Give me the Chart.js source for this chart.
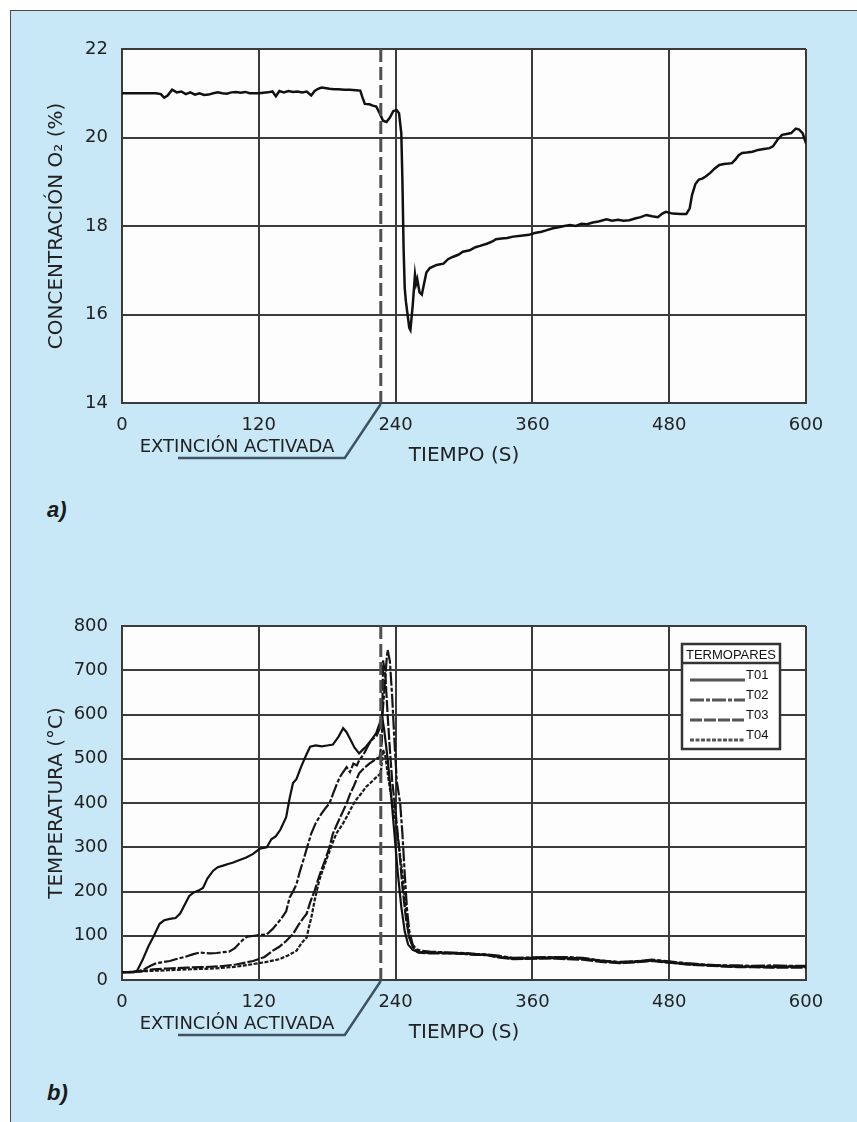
<!DOCTYPE html>
<html lang="es">
<head>
<meta charset="utf-8">
<title>Concentración de O2 y temperatura</title>
<script src="https://cdn.jsdelivr.net/npm/chart.js@4.4.1/dist/chart.umd.min.js"></script>
<style>
  html, body { margin: 0; padding: 0; background: #fff; }
  body { width: 857px; height: 1122px; position: relative; overflow: hidden; }
  #frame { position: absolute; left: 10px; top: 10px; right: 0; bottom: 0;
           background: #c8e8f8; border-left: 1px solid #4a4a4a; border-top: 1px solid #4a4a4a; }
  canvas { position: absolute; left: 0; }
  .tag { position: absolute; left: 47px; font: italic bold 22px "Liberation Sans", Arial, sans-serif; color: #1a1a1a; }
</style>
</head>
<body>
<div id="frame"></div>
<canvas id="chartA" width="857" height="480" style="top:0"></canvas>
<canvas id="chartB" width="857" height="480" style="top:577px"></canvas>
<div class="tag" style="top:497px">a)</div>
<div class="tag" style="top:1080px">b)</div>

<script>
// axis ticks
const timeTicks = [0, 120, 240, 360, 480, 600];
const o2Ticks = [14, 16, 18, 20, 22];
const tempTicks = [0, 100, 200, 300, 400, 500, 600, 700, 800];
const extinctionTime = 227; // s, extinction activated
const legendTitle = 'TERMOPARES';

// a) O2 concentration (%) vs time (s)
const o2Data = [
  [0,21.0],[5,21.0],[10,21.0],[15,21.0],[20,21.0],[25,21.0],[30,21.0],[34,20.98],[37,20.9],[40,20.95],
  [44,21.08],[48,21.02],[52,21.04],[56,20.98],[60,21.02],[64,20.97],[68,21.0],[72,20.96],[76,20.97],[80,21.0],
  [84,21.02],[88,21.0],[92,20.99],[96,21.02],[100,21.03],[104,21.01],[108,21.03],[112,21.0],[116,21.0],[120,21.0],
  [124,21.01],[128,21.02],[132,21.04],[135,20.93],[138,21.05],[142,21.02],[146,21.05],[150,21.03],[154,21.04],[158,21.02],
  [162,21.04],[166,20.95],[169,21.05],[172,21.1],[175,21.13],[178,21.12],[182,21.1],[186,21.09],[190,21.09],[195,21.08],
  [200,21.08],[205,21.07],[209,21.06],[211,20.9],[213,20.76],[217,20.75],[220,20.72],[223,20.7],[226,20.55],[229,20.38],
  [232,20.35],[235,20.45],[238,20.6],[241,20.62],[243,20.55],[245,20.1],[246,19.0],[247,17.5],[248,16.6],[249,16.3],
  [250,16.1],[252,15.7],[253,15.65],[255,16.2],[257,16.9],[258,16.7],[259,16.8],[261,16.5],[263,16.45],[265,16.7],
  [267,16.95],[270,17.05],[276,17.12],[282,17.15],[286,17.25],[290,17.3],[295,17.35],[299,17.42],[305,17.45],[310,17.52],
  [314,17.55],[320,17.6],[325,17.65],[328,17.7],[333,17.72],[338,17.73],[343,17.76],[350,17.78],[357,17.8],[362,17.84],
  [368,17.87],[372,17.9],[378,17.95],[383,17.97],[388,18.0],[393,18.02],[398,18.0],[403,18.05],[408,18.04],[413,18.08],
  [418,18.1],[425,18.15],[430,18.12],[435,18.14],[440,18.12],[445,18.13],[450,18.17],[455,18.2],[460,18.25],[465,18.22],
  [470,18.2],[474,18.28],[477,18.32],[483,18.28],[490,18.27],[495,18.27],[498,18.4],[500,18.7],[503,18.95],[506,19.05],
  [509,19.07],[512,19.12],[516,19.2],[520,19.3],[524,19.38],[528,19.4],[532,19.41],[535,19.42],[538,19.5],[541,19.6],
  [544,19.65],[548,19.66],[553,19.68],[558,19.72],[563,19.74],[568,19.76],[571,19.8],[575,19.95],[579,20.06],[583,20.08],
  [587,20.1],[591,20.2],[594,20.18],[597,20.1],[600,19.87]
];

// b) thermocouple temperatures (°C) vs time (s)
const t01Data = [
  [0,18],[5,18],[10,19],[13,20],[18,45],[23,75],[28,100],[33,127],[37,135],[42,138],[47,140],[51,150],[55,170],
  [59,190],[63,198],[67,202],[71,208],[75,230],[80,247],[84,255],[88,258],[93,262],[97,265],[102,270],[109,277],
  [115,285],[121,297],[127,300],[131,318],[135,325],[139,340],[144,368],[147,410],[150,445],[153,454],[157,481],
  [161,505],[165,527],[170,530],[175,528],[180,530],[185,532],[190,550],[194,569],[197,560],[200,545],[204,525],
  [208,512],[211,520],[214,527],[218,540],[223,558],[226,580],[228,598],[230,565],[233,500],[236,420],[239,330],
  [242,240],[245,165],[248,110],[251,80],[255,68],[260,63],[270,62],[280,62],[290,61],[300,60],[310,58],[320,57],
  [330,52],[343,48],[360,49],[378,50],[390,49],[404,48],[420,43],[436,39],[450,41],[465,44],[480,40],[495,36],
  [510,34],[524,32],[540,30],[553,30],[570,29],[585,30],[600,30]
];
const t02Data = [
  [0,18],[10,18],[15,20],[20,25],[25,32],[30,38],[35,40],[42,43],[47,47],[55,52],[62,58],[68,62],[73,61],[77,60],
  [83,61],[89,63],[94,64],[99,72],[103,83],[107,93],[110,98],[116,100],[122,102],[127,103],[132,115],[136,127],
  [140,140],[144,155],[147,186],[150,200],[153,216],[156,245],[159,270],[163,305],[166,331],[170,355],[175,376],
  [179,390],[182,399],[185,420],[188,440],[191,458],[194,470],[197,481],[200,470],[203,489],[206,485],[208,496],
  [212,510],[217,535],[220,545],[223,550],[226,568],[228,585],[230,650],[232,720],[233,746],[235,720],[237,640],
  [239,540],[241,450],[244,400],[246,330],[248,240],[250,160],[252,110],[255,80],[258,70],[262,66],[270,64],
  [280,63],[290,62],[300,61],[310,59],[320,58],[330,55],[343,50],[360,51],[378,52],[390,52],[404,50],[420,44],
  [436,41],[450,42],[465,46],[480,42],[495,38],[510,35],[524,33],[540,33],[553,32],[570,33],[585,32],[600,32]
];
const t03Data = [
  [0,18],[10,18],[18,20],[27,24],[40,26],[57,28],[70,29],[86,31],[100,35],[115,43],[125,52],[132,66],[138,75],
  [144,88],[150,104],[155,125],[159,140],[162,150],[165,175],[169,202],[173,235],[178,270],[182,300],[185,331],
  [190,360],[197,399],[200,420],[203,436],[206,455],[208,467],[212,478],[217,489],[222,498],[226,504],[228,540],
  [229,722],[231,690],[233,600],[235,520],[237,450],[240,380],[243,300],[246,210],[249,140],[252,95],[256,70],
  [260,62],[270,60],[280,60],[290,60],[300,59],[310,57],[320,56],[330,51],[343,47],[360,48],[378,49],[390,47],
  [404,46],[420,41],[436,38],[450,40],[465,43],[480,39],[495,35],[510,33],[524,31],[540,29],[553,29],[570,28],
  [585,28],[600,28]
];
const t04Data = [
  [0,18],[10,18],[20,20],[40,22],[57,24],[70,25],[86,27],[100,30],[115,36],[125,40],[138,47],[146,56],[153,66],
  [158,85],[162,96],[164,120],[166,140],[169,180],[173,225],[179,270],[184,305],[188,331],[193,350],[197,368],
  [201,388],[205,406],[210,422],[214,436],[219,448],[223,458],[227,467],[229,520],[231,505],[234,450],[237,400],
  [240,360],[243,300],[246,240],[249,160],[252,100],[255,75],[259,64],[270,61],[280,61],[290,60],[300,59],
  [310,58],[320,57],[330,53],[343,49],[360,50],[378,51],[390,50],[404,49],[420,44],[436,40],[450,42],[465,45],
  [480,41],[495,37],[510,34],[524,33],[540,31],[553,31],[570,31],[585,31],[600,31]
];

const gridColor = '#3b3b3b';
const textColor = '#222';
const tickFont = { family: '"DejaVu Sans", sans-serif', size: 18 };
const titleFont = { family: '"DejaVu Sans", sans-serif', size: 20 };

const pts = arr => arr.map(([x, y]) => ({ x, y }));

// white plot area
const plotBackground = {
  id: 'plotBackground',
  beforeDraw(chart) {
    const { ctx, chartArea: a } = chart;
    ctx.save();
    ctx.fillStyle = '#fdfdfd';
    ctx.fillRect(a.left, a.top, a.width, a.height);
    ctx.restore();
  }
};

// dashed line at extinction time + leader line to its label
const extinctionMarker = {
  id: 'extinctionMarker',
  afterDatasetsDraw(chart) {
    const { ctx, chartArea: a, scales: { x } } = chart;
    const px = x.getPixelForValue(extinctionTime);
    ctx.save();
    ctx.strokeStyle = '#505050';
    ctx.lineWidth = 3;
    ctx.setLineDash([13, 5]);
    ctx.beginPath();
    ctx.moveTo(px, a.top);
    ctx.lineTo(px, a.bottom);
    ctx.stroke();
    ctx.setLineDash([]);
    ctx.strokeStyle = '#3f5360';
    ctx.lineWidth = 2.5;
    ctx.beginPath();
    ctx.moveTo(px, a.bottom + 1);
    ctx.lineTo(px - 36, a.bottom + 55);
    ctx.lineTo(a.left + 56, a.bottom + 55);
    ctx.stroke();
    ctx.fillStyle = textColor;
    ctx.font = '18px "DejaVu Sans"';
    ctx.textAlign = 'center';
    ctx.textBaseline = 'middle';
    ctx.fillText('EXTINCIÓN ACTIVADA', a.left + 115, a.bottom + 44);
    ctx.restore();
  }
};

// boxed legend inside the plot, top right
const thermoLegend = {
  id: 'thermoLegend',
  afterDraw(chart) {
    const { ctx, chartArea: a } = chart;
    const x0 = a.right - 124, y0 = a.top + 18, w = 98, h = 105;
    ctx.save();
    ctx.fillStyle = '#fff';
    ctx.fillRect(x0, y0, w, h);
    ctx.strokeStyle = '#333';
    ctx.lineWidth = 2.5;
    ctx.strokeRect(x0, y0, w, h);
    ctx.beginPath();
    ctx.moveTo(x0, y0 + 19);
    ctx.lineTo(x0 + w, y0 + 19);
    ctx.stroke();
    ctx.font = '13px "Liberation Sans", Arial, sans-serif';
    ctx.fillStyle = '#111';
    ctx.textBaseline = 'middle';
    ctx.textAlign = 'center';
    ctx.fillText(legendTitle, x0 + w / 2, y0 + 11);
    ctx.textAlign = 'left';
    chart.data.datasets.forEach((ds, i) => {
      const y = y0 + 31 + i * 20;
      ctx.strokeStyle = '#555';
      ctx.lineWidth = 3;
      ctx.setLineDash(ds.borderDash || []);
      ctx.beginPath();
      ctx.moveTo(x0 + 8, y + 5);
      ctx.lineTo(x0 + 63, y + 5);
      ctx.stroke();
      ctx.setLineDash([]);
      ctx.fillText(ds.label, x0 + 64, y);
    });
    ctx.restore();
  }
};

function buildChart(id, datasets, yTicks, yTitle, extraPlugins) {
  return new Chart(document.getElementById(id), {
    type: 'line',
    data: { datasets },
    options: {
      responsive: false,
      animation: false,
      devicePixelRatio: 1,
      layout: { padding: { left: 0, right: 51, top: 49, bottom: 0 } },
      plugins: { legend: { display: false }, tooltip: { enabled: false } },
      elements: { point: { radius: 0 }, line: { borderWidth: 2.5, borderColor: '#111', tension: 0 } },
      scales: {
        x: {
          type: 'linear', min: 0, max: 600,
          afterFit: s => { s.height = 77; },
          afterBuildTicks: s => { s.ticks = timeTicks.map(v => ({ value: v })); },
          grid: { color: gridColor, lineWidth: 2, drawTicks: false },
          border: { color: gridColor, width: 2 },
          ticks: { font: tickFont, color: textColor, padding: 12, maxRotation: 0, autoSkip: false },
          title: { display: true, text: 'TIEMPO (S)', font: titleFont, color: textColor, padding: { top: 0, bottom: 12 } }
        },
        y: {
          min: yTicks[0], max: yTicks[yTicks.length - 1],
          afterFit: s => { s.width = 122; },
          afterBuildTicks: s => { s.ticks = yTicks.map(v => ({ value: v })); },
          grid: { color: gridColor, lineWidth: 2, drawTicks: false },
          border: { color: gridColor, width: 2 },
          ticks: { font: tickFont, color: textColor, padding: 14, autoSkip: false },
          title: { display: true, text: yTitle, font: titleFont, color: textColor, padding: { top: 45, bottom: 0 } }
        }
      }
    },
    plugins: [plotBackground, extinctionMarker, ...extraPlugins]
  });
}

buildChart('chartA', [
  { label: 'O2', data: pts(o2Data), borderColor: '#111', borderWidth: 2.5 }
], o2Ticks, 'CONCENTRACIÓN O₂ (%)', []);

buildChart('chartB', [
  { label: 'T01', data: pts(t01Data), borderColor: '#111', borderWidth: 2.2 },
  { label: 'T02', data: pts(t02Data), borderColor: '#151515', borderWidth: 2.2, borderDash: [14, 2, 4, 2] },
  { label: 'T03', data: pts(t03Data), borderColor: '#151515', borderWidth: 2.2, borderDash: [12, 2] },
  { label: 'T04', data: pts(t04Data), borderColor: '#1a1a1a', borderWidth: 2.2, borderDash: [4, 1.5] }
], tempTicks, 'TEMPERATURA (°C)', [thermoLegend]);
</script>
</body>
</html>
